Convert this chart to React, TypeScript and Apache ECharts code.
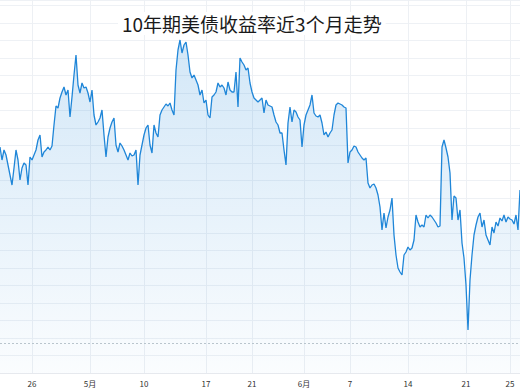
import React, { useEffect, useRef } from "react";
import * as echarts from "echarts";

const titleText = "10年期美债收益率近3个月走势";

// tick labels along the x axis and the point index at which each sits
const tickLabels = ["26", "5月", "10", "17", "21", "6月", "7", "14", "21", "25"];
const tickIndex = [16, 45, 72, 103, 126, 152, 175, 204, 233, 255];

// yield (%) readings, in order
const yields = [
  4.216, 4.203, 4.213, 4.208, 4.198, 4.188, 4.178, 4.195, 4.213, 4.203,
  4.183, 4.195, 4.200, 4.198, 4.178, 4.206, 4.203, 4.208, 4.213, 4.223,
  4.228, 4.206, 4.211, 4.213, 4.216, 4.213, 4.217, 4.238, 4.257, 4.255,
  4.265, 4.271, 4.276, 4.268, 4.273, 4.246, 4.266, 4.288, 4.308, 4.278,
  4.270, 4.280, 4.275, 4.276, 4.270, 4.261, 4.273, 4.248, 4.238, 4.241,
  4.245, 4.253, 4.228, 4.206, 4.226, 4.235, 4.241, 4.245, 4.218, 4.211,
  4.220, 4.217, 4.213, 4.208, 4.203, 4.210, 4.207, 4.208, 4.213, 4.178,
  4.208, 4.218, 4.228, 4.235, 4.238, 4.218, 4.210, 4.238, 4.230, 4.226,
  4.248, 4.253, 4.256, 4.259, 4.257, 4.260, 4.253, 4.248, 4.293, 4.313,
  4.323, 4.310, 4.318, 4.321, 4.308, 4.291, 4.285, 4.288, 4.283, 4.278,
  4.268, 4.273, 4.260, 4.263, 4.248, 4.245, 4.266, 4.268, 4.271, 4.280,
  4.276, 4.278, 4.275, 4.268, 4.281, 4.273, 4.271, 4.271, 4.291, 4.256,
  4.305, 4.301, 4.298, 4.293, 4.295, 4.280, 4.271, 4.265, 4.263, 4.261,
  4.263, 4.265, 4.250, 4.263, 4.258, 4.257, 4.256, 4.248, 4.241, 4.238,
  4.230, 4.230, 4.213, 4.198, 4.240, 4.256, 4.241, 4.253, 4.251, 4.246,
  4.243, 4.216, 4.238, 4.248, 4.253, 4.258, 4.268, 4.250, 4.247, 4.246,
  4.248, 4.240, 4.228, 4.231, 4.226, 4.230, 4.233, 4.248, 4.258, 4.260,
  4.259, 4.258, 4.256, 4.255, 4.200, 4.211, 4.213, 4.217, 4.216, 4.211,
  4.208, 4.205, 4.203, 4.205, 4.180, 4.175, 4.178, 4.179, 4.175, 4.168,
  4.156, 4.133, 4.150, 4.135, 4.146, 4.153, 4.165, 4.128, 4.108, 4.095,
  4.091, 4.088, 4.108, 4.111, 4.116, 4.113, 4.115, 4.123, 4.148, 4.141,
  4.136, 4.138, 4.136, 4.148, 4.145, 4.148, 4.146, 4.143, 4.140, 4.136,
  4.137, 4.216, 4.223, 4.215, 4.206, 4.190, 4.143, 4.167, 4.165, 4.143,
  4.153, 4.120, 4.105, 4.078, 4.033, 4.083, 4.108, 4.128, 4.138, 4.146,
  4.150, 4.136, 4.143, 4.128, 4.123, 4.118, 4.136, 4.130, 4.141, 4.137,
  4.145, 4.142, 4.148, 4.141, 4.146, 4.144, 4.143, 4.139, 4.148, 4.133,
  4.173,
];

// dotted reference level
const refLevel = [4.022];

// y-axis range and step
const yMin = 3.99;
const yMax = 4.363;
const yStep = 0.0175;

export default function App() {
  const ref = useRef<HTMLDivElement>(null);

  useEffect(() => {
    if (!ref.current) return;
    const chart = echarts.init(ref.current, null, { renderer: "svg" });
    const categories = yields.map((_, i) => String(i));
    const labelMap: Record<number, string> = {};
    tickIndex.forEach((idx, k) => {
      labelMap[idx] = tickLabels[k];
    });
    const isTick = (idx: number) => labelMap[idx] !== undefined;

    chart.setOption({
      animation: false,
      backgroundColor: "#ffffff",
      title: {
        text: titleText,
        left: 118,
        top: 12,
        padding: [2, 4],
        backgroundColor: "#ffffff",
        textStyle: {
          fontSize: 19,
          fontWeight: "normal",
          color: "#1a1a1a",
          fontFamily: "Noto Sans CJK SC",
        },
      },
      grid: { left: 0, right: 0, top: 0, bottom: 17, containLabel: false },
      xAxis: {
        type: "category",
        data: categories,
        boundaryGap: false,
        axisLine: { show: true, lineStyle: { color: "#e6e9ee" } },
        axisTick: { show: false },
        axisLabel: {
          interval: (idx: number) => isTick(idx),
          formatter: (_v: string, idx: number) => labelMap[idx] ?? "",
          fontSize: 8,
          color: "#333333",
          margin: 6,
          fontFamily: "Noto Sans CJK SC",
        },
        splitLine: {
          show: true,
          interval: (idx: number) => isTick(idx),
          lineStyle: { color: "#edf0f4", width: 1 },
        },
      },
      yAxis: {
        type: "value",
        min: yMin,
        max: yMax,
        interval: yStep,
        axisLine: { show: false },
        axisTick: { show: false },
        axisLabel: { show: false },
        splitLine: { show: true, lineStyle: { color: "#eef1f5", width: 1 } },
      },
      series: [
        {
          type: "line",
          data: yields,
          symbol: "none",
          showSymbol: false,
          lineStyle: { color: "#1f86d8", width: 1.3 },
          itemStyle: { color: "#1f86d8" },
          areaStyle: {
            color: new echarts.graphic.LinearGradient(0, 0, 0, 1, [
              { offset: 0, color: "rgba(31,134,216,0.28)" },
              { offset: 1, color: "rgba(31,134,216,0.03)" },
            ]),
          },
          markLine: {
            silent: true,
            symbol: "none",
            label: { show: false },
            lineStyle: { color: "#b9c5cd", type: [2, 2], width: 1 },
            data: refLevel.map((v) => ({ yAxis: v })),
          },
        },
      ],
    });
    return () => chart.dispose();
  }, []);

  return (
    <div
      ref={ref}
      style={{ position: "fixed", left: 0, top: 0, width: 520, height: 390 }}
    />
  );
}
